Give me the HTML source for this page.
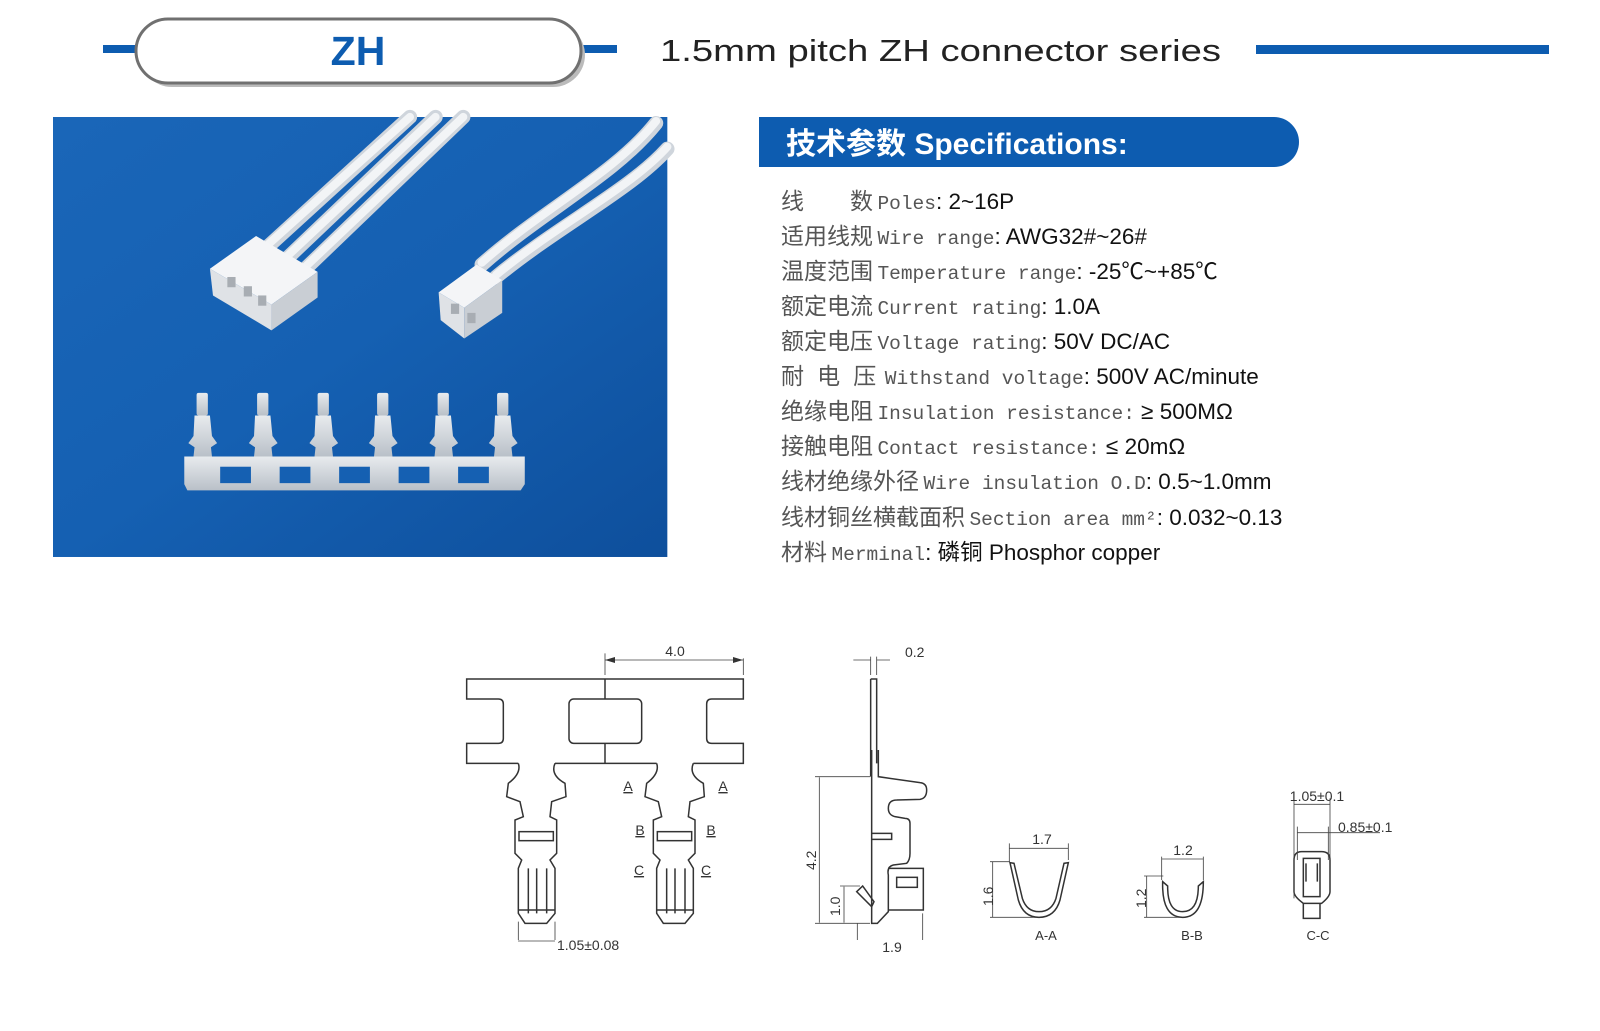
<!DOCTYPE html>
<html><head><meta charset="utf-8"><style>
html,body{margin:0;padding:0;background:#fff;}
#w{position:relative;width:1600px;height:1031px;overflow:hidden;font-family:"Liberation Sans","Noto Sans CJK SC",sans-serif;}
.sl{position:absolute;left:781px;white-space:nowrap;height:30px;line-height:30px;}
.c{font-family:"Noto Sans CJK SC",sans-serif;font-size:23px;color:#555;}
.m{font-family:"Liberation Mono","Noto Sans CJK SC",monospace;font-size:19.5px;color:#555;}
.v{font-family:"Liberation Sans","Noto Sans CJK SC",sans-serif;font-size:22.5px;color:#111;}
svg{position:absolute;left:0;top:0;}
</style></head><body><div id="w">
<svg width="1600" height="1031" viewBox="0 0 1600 1031" xmlns="http://www.w3.org/2000/svg">
<defs>
<linearGradient id="bg" x1="0" y1="0" x2="1" y2="1"><stop offset="0" stop-color="#1a66b8"/><stop offset="0.5" stop-color="#1560b2"/><stop offset="1" stop-color="#0e4f9c"/></linearGradient>
<linearGradient id="met" x1="0" y1="0" x2="0" y2="1"><stop offset="0" stop-color="#e8ebee"/><stop offset="1" stop-color="#b9c0c8"/></linearGradient>
</defs>
<rect x="103" y="45" width="34" height="8" fill="#0d5cb0"/>
<rect x="583" y="45" width="34" height="8" fill="#0d5cb0"/>
<rect x="140" y="23" width="445" height="64" rx="32" fill="#bbb"/>
<rect x="136" y="19" width="445" height="64" rx="32" fill="#fff" stroke="#707070" stroke-width="3"/>
<text x="358" y="65" text-anchor="middle" font-family="Liberation Sans" font-weight="bold" font-size="41" fill="#0d5cb0">ZH</text>
<text x="660" y="61" font-family="Liberation Sans" font-size="31" fill="#222" textLength="561" lengthAdjust="spacingAndGlyphs">1.5mm pitch ZH connector series</text>
<rect x="1256" y="45" width="293" height="9" fill="#0d5cb0"/>
<path d="M759 117 H1274 A25 25 0 0 1 1274 167 H759 Z" fill="#0d5cb0"/>
<text x="786" y="154" font-family="Liberation Sans,Noto Sans CJK SC" font-weight="bold" font-size="30" fill="#fff">技术参数 Specifications:</text>
<g transform="translate(53,117) scale(1.0256) translate(-52,-114)">
<rect x="52" y="114" width="599" height="429" fill="url(#bg)"/>
<g stroke="#cfd5dc" stroke-width="14" fill="none" stroke-linecap="round">
<path d="M262 240 L400 114"/><path d="M280 252 L425 114"/><path d="M296 264 L452 114"/>
<path d="M470 258 C530 205 600 170 640 120"/><path d="M484 270 C545 220 615 185 651 145"/>
</g>
<g stroke="#f2f4f6" stroke-width="8" fill="none" stroke-linecap="round">
<path d="M262 238 L400 114"/><path d="M280 250 L425 114"/><path d="M296 262 L452 114"/>
<path d="M470 256 C530 203 600 168 640 118"/><path d="M484 268 C545 218 615 183 651 143"/>
</g>
<polygon points="205,262 250,230 310,265 265,297" fill="#f4f5f7"/>
<polygon points="205,262 265,297 265,322 208,288" fill="#dfe2e6"/>
<polygon points="265,297 310,265 310,290 265,322" fill="#c9ced4"/>
<rect x="222" y="270" width="8" height="10" fill="#a8adb3"/><rect x="238" y="279" width="8" height="10" fill="#a8adb3"/><rect x="252" y="288" width="8" height="10" fill="#a8adb3"/>
<polygon points="428,285 465,258 490,273 453,300" fill="#f4f5f7"/>
<polygon points="428,285 453,300 453,330 430,312" fill="#dfe2e6"/>
<polygon points="453,300 490,273 490,305 453,330" fill="#c9ced4"/>
<rect x="440" y="296" width="8" height="10" fill="#a8adb3"/><rect x="456" y="305" width="8" height="10" fill="#a8adb3"/>
<path d="M180 445 H512 V472 L508 478 H183 L180 472 Z" fill="url(#met)"/>
<g fill="#1560b2"><rect x="215" y="455" width="30" height="16"/><rect x="273" y="455" width="30" height="16"/><rect x="331" y="455" width="30" height="16"/><rect x="389" y="455" width="30" height="16"/><rect x="447" y="455" width="30" height="16"/></g>
<g fill="url(#met)">
<g id="t"><rect x="192" y="383" width="11" height="22" rx="2"/><path d="M190 405 H205 L207 425 L212 432 L206 436 L207 445 H189 L190 436 L184 432 L189 425 Z"/></g>
<use href="#t" x="59"/><use href="#t" x="118"/><use href="#t" x="176"/><use href="#t" x="235"/><use href="#t" x="293"/>
</g>
</g>
<g transform="translate(440,620) scale(0.33333)" fill="none" stroke="#333" stroke-width="4.5">
<path d="M235 430 H80 V370 H175 Q190 370 190 355 V252 Q190 237 175 237 H80 V177 H910 V237 H815 Q800 237 800 252 V355 Q800 370 815 370 H910 V430 H760 M345 430 H650"/>
<path d="M235 430 Q245 460 205 490 L200 530 L240 545 L250 590 L225 600 L225 700 L245 720 L235 745 L235 880 L255 910 L320 910 L345 880 L345 745 L330 720 L350 700 L350 600 L330 590 L335 545 L378 530 L375 490 Q330 465 345 430"/>
<path d="M235 430 Q245 460 205 490 L200 530 L240 545 L250 590 L225 600 L225 700 L245 720 L235 745 L235 880 L255 910 L320 910 L345 880 L345 745 L330 720 L350 700 L350 600 L330 590 L335 545 L378 530 L375 490 Q330 465 345 430" transform="translate(415,0)"/>
<rect x="387" y="237" width="218" height="133" rx="14"/>
<path d="M495 177 V237 M495 370 V430"/>
<rect x="237" y="635" width="103" height="27"/><rect x="652" y="635" width="103" height="27"/>
<path d="M265 745 V880 M290 745 V880 M320 745 V880 M235 870 H345 M680 745 V880 M705 745 V880 M735 745 V880 M650 870 H760"/>
<path d="M1292 177 H1310 V430 M1292 177 V470"/>
</g>
<g transform="translate(440,620) scale(0.33333)" fill="none" stroke="#444" stroke-width="2.5">
<path d="M495 165 V100 M910 165 V115 M495 120 H910 M1292 165 V110 M1310 165 V110 M1240 120 H1292 M1310 120 H1350"/>
<path d="M235 905 V960 M345 905 V960"/>
</g>
<g fill="#333"><path d="M605 660 L615 657 L615 663 Z M743 660 L733 657 L733 663 Z"/></g>
<text x="675" y="656" font-family="Liberation Sans" font-size="14" fill="#333" text-anchor="middle">4.0</text>
<text x="905" y="657" font-family="Liberation Sans" font-size="14" fill="#333">0.2</text>
<line x1="518" y1="941" x2="555" y2="941" stroke="#444" stroke-width="0.8"/>
<text x="557" y="950" font-family="Liberation Sans" font-size="14" fill="#333">1.05±0.08</text>
<g font-family="Liberation Sans" font-size="14" fill="#333" text-anchor="middle" text-decoration="underline">
<text x="628" y="791">A</text><text x="723" y="791">A</text>
<text x="640" y="835">B</text><text x="711" y="835">B</text>
<text x="639" y="875">C</text><text x="706" y="875">C</text>
</g>
<g transform="translate(780,750) scale(0.33333)" fill="none" stroke="#333" stroke-width="4.5">
<path d="M275 0 V520 H292 L325 485 V375 Q320 350 340 345 L380 340 Q390 330 390 310 V220 Q390 205 375 205 L345 200 Q325 195 325 175 Q325 150 350 150 L420 148 Q440 145 440 120 Q440 100 420 98 L295 80 V0"/>
<path d="M275 250 H335 V268 H275"/>
<path d="M325 355 H430 V480 H325"/><rect x="350" y="382" width="62" height="30"/>
<path d="M230 425 L248 408 L282 455 L275 470 Z"/>
</g>
<g transform="translate(780,750) scale(0.33333)" fill="none" stroke="#444" stroke-width="2.5">
<path d="M105 80 H270 M118 82 V518 M105 520 H270 M180 408 H240 M192 410 V518 M232 520 V570 M428 490 V570"/>
</g>
<g font-family="Liberation Sans" font-size="14" fill="#333">
<text transform="translate(816,870) rotate(-90)">4.2</text>
<text transform="translate(840,916) rotate(-90)">1.0</text>
<text x="892" y="952" text-anchor="middle">1.9</text>
</g>
<g transform="translate(940,760) scale(0.33333)" fill="none" stroke="#333" stroke-width="4.5">
<path d="M210 308 L235 420 Q250 472 297 472 Q345 472 360 420 L385 308 L372 310 L348 415 Q335 455 297 455 Q260 455 247 415 L222 310 Z"/>
<path d="M668 365 Q665 472 728 472 Q790 472 790 365 L775 378 Q775 455 728 455 Q682 455 683 378 Z"/>
<path d="M1085 275 H1145 Q1170 275 1170 300 V395 Q1170 410 1145 430 H1090 Q1062 410 1062 395 V300 Q1062 275 1085 275 Z"/>
<path d="M1090 295 H1140 V410 H1090 Z M1098 310 V365 M1132 310 V365 M1090 430 V475 H1140 V430"/>
</g>
<g transform="translate(940,760) scale(0.33333)" fill="none" stroke="#444" stroke-width="2.5">
<path d="M208 250 V305 M385 250 V300 M208 265 H385 M150 305 H210 M150 472 H290 M158 305 V472"/>
<path d="M665 290 V360 M790 290 V360 M665 297 H790 M612 348 H670 M612 472 H720 M620 348 V472"/>
<path d="M1062 115 V415 M1170 115 V300 M1062 133 H1170 M1072 200 V300 M1165 200 V300 M1072 218 H1320"/>
</g>
<g font-family="Liberation Sans" font-size="14" fill="#333">
<text x="1042" y="844" text-anchor="middle">1.7</text>
<text transform="translate(993,906) rotate(-90)">1.6</text>
<text x="1046" y="940" text-anchor="middle" font-size="13">A-A</text>
<text x="1183" y="855" text-anchor="middle">1.2</text>
<text transform="translate(1146,908) rotate(-90)">1.2</text>
<text x="1192" y="940" text-anchor="middle" font-size="13">B-B</text>
<text x="1317" y="801" text-anchor="middle">1.05±0.1</text>
<text x="1338" y="832">0.85±0.1</text>
<text x="1318" y="940" text-anchor="middle" font-size="13">C-C</text>
</g>
</svg>
<div class="sl" style="top:184px"><span class="c">线　　数</span> <span class="m">Poles</span><span class="v">: 2~16P</span></div>
<div class="sl" style="top:219px"><span class="c">适用线规</span> <span class="m">Wire range</span><span class="v">: AWG32#~26#</span></div>
<div class="sl" style="top:254px"><span class="c">温度范围</span> <span class="m">Temperature range</span><span class="v">: -25℃~+85℃</span></div>
<div class="sl" style="top:289px"><span class="c">额定电流</span> <span class="m">Current rating</span><span class="v">: 1.0A</span></div>
<div class="sl" style="top:324px"><span class="c">额定电压</span> <span class="m">Voltage rating</span><span class="v">: 50V DC/AC</span></div>
<div class="sl" style="top:359px"><span class="c" style="letter-spacing:4px">耐 电 压</span> <span class="m">Withstand voltage</span><span class="v">: 500V AC/minute</span></div>
<div class="sl" style="top:394px"><span class="c">绝缘电阻</span> <span class="m">Insulation resistance:</span><span class="v"> ≥ 500MΩ</span></div>
<div class="sl" style="top:429px"><span class="c">接触电阻</span> <span class="m">Contact resistance:</span><span class="v"> ≤ 20mΩ</span></div>
<div class="sl" style="top:464px"><span class="c">线材绝缘外径</span> <span class="m">Wire insulation O.D</span><span class="v">: 0.5~1.0mm</span></div>
<div class="sl" style="top:500px"><span class="c">线材铜丝横截面积</span> <span class="m">Section area mm²</span><span class="v">: 0.032~0.13</span></div>
<div class="sl" style="top:535px"><span class="c">材料</span> <span class="m">Merminal</span><span class="v">: 磷铜 Phosphor copper</span></div>
</div></body></html>
